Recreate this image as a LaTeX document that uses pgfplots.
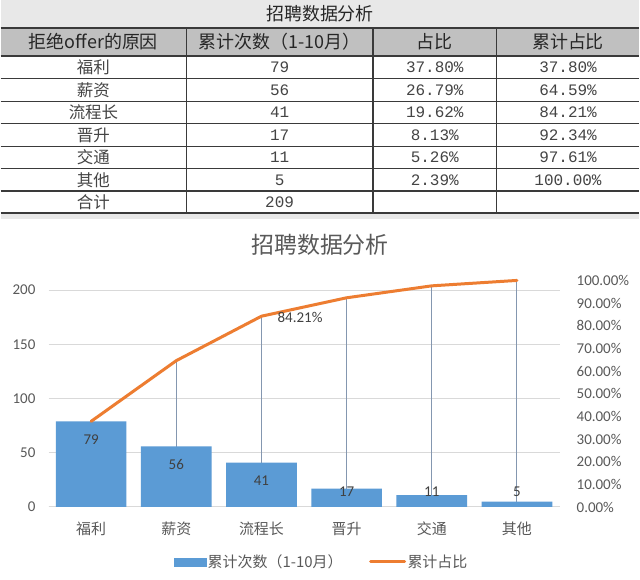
\documentclass[border=0pt]{standalone}
\usepackage{fontspec}
\setmainfont{Carlito}
\newfontfamily\cjk{Noto Sans CJK SC}
\newfontfamily\mono{Liberation Mono}
\usepackage{pgfplots}
\usepackage{pgfplotstable}
\pgfplotsset{compat=1.18}
\newcommand\fs[1]{\fontsize{#1}{#1}\selectfont}
\definecolor{barblue}{HTML}{5B9BD5}
\definecolor{lineor}{HTML}{ED7D31}
\definecolor{gridc}{HTML}{D9D9D9}
\definecolor{txt}{HTML}{595959}
\definecolor{dropc}{HTML}{8497B0}
\definecolor{tstrip}{HTML}{E8E8E8}
\definecolor{thead}{HTML}{C0C0C0}
\definecolor{tline}{HTML}{3A3A3A}
\definecolor{ttext}{HTML}{444444}
\pgfplotstableread{
x n cum
0 79 37.80
1 56 64.59
2 41 84.21
3 17 92.34
4 11 97.61
5 5 100.00
}\datatab
\begin{document}
\begin{tikzpicture}[x=1pt,y=1pt]
\fill[white] (0,0) rectangle (640,581);
\fill[tstrip] (0,553) rectangle (640,581);
\fill[thead] (0,525) rectangle (640,553);
\fill[tstrip] (0,362) rectangle (640,367.5);
\begin{scope}[tline, line width=1.3pt]
\foreach \yy in {553,525,502,479.5,457,434,412,389.5,367.5} {\draw (0,\yy) -- (640,\yy);}
\foreach \xx in {186,373,497} {\draw (\xx,553) -- (\xx,367.5);}
\end{scope}
\node[font=\cjk\fs{18}, text=black!85] at (320,567) {招聘数据分析};
\begin{scope}[every node/.style={font=\cjk\fs{18}, text=black!85, inner sep=0pt}]
\node at (93,539) {拒绝offer的原因};
\node at (279.5,539) {累计次数（1-10月）};
\node at (435,539) {占比};
\node at (568.5,539) {累计占比};
\end{scope}
\begin{scope}[every node/.style={text=ttext, inner sep=0pt}]
\foreach \yy/\a/\b/\c/\d in {513.5/福利/79/37.80\%/37.80\%, 491/薪资/56/26.79\%/64.59\%, 468.5/流程长/41/19.62\%/84.21\%, 445.5/晋升/17/8.13\%/92.34\%, 423/交通/11/5.26\%/97.61\%, 400.5/其他/5/2.39\%/100.00\%, 378.5/合计/209//} {
  \node[font=\cjk\fs{16.5}] at (93,\yy) {\a};
  \node[font=\mono\fs{16}] at (279.5,\yy) {\b};
  \node[font=\mono\fs{16}] at (435,\yy) {\c};
  \node[font=\mono\fs{16}] at (568.5,\yy) {\d};
}
\end{scope}
\node[font=\cjk\fs{23}, text=txt] at (320,336) {招聘数据分析};

\begin{axis}[
  at={(48pt,73pt)}, anchor=south west, scale only axis,
  width=512pt, height=227pt,
  xmin=-0.5, xmax=5.5, ymin=0, ymax=209,
  clip=false,
  separate axis lines,
  axis x line*=bottom, axis y line*=left,
  x axis line style={draw=gridc, line width=1pt, -},
  y axis line style={draw=none},
  tick style={draw=none}, major tick length=0pt,
  ymajorgrids, grid style={gridc, line width=1pt},
  /pgf/number format/assume math mode=true,
  ytick={0,50,100,150,200}, yticklabels={0,50,100,150,200},
  yticklabel style={font=\fs{15}, text=txt, anchor=east, inner sep=0pt, xshift=-13pt},
  xtick={0,1,2,3,4,5}, xticklabels={福利,薪资,流程长,晋升,交通,其他},
  xticklabel style={font=\cjk\fs{15}, text=txt, anchor=center, inner sep=0pt, yshift=-22pt},
]
\addplot[ycomb, draw=dropc, line width=1pt, mark=none] table[x=x, y expr=\thisrow{cum}*2.09] {\datatab};
\addplot[ybar, bar width=0.83, fill=barblue, draw=none] table[x=x, y=n] {\datatab};
\addplot[draw=none, mark=none, nodes near coords, point meta=explicit symbolic,
  every node near coord/.append style={anchor=center, font=\fs{15}, text=black!75, inner sep=0pt}]
  table[x=x, y expr={max(\thisrow{n}-16.6,13.8)}, meta=n] {\datatab};
\end{axis}

\begin{axis}[
  at={(48pt,73pt)}, anchor=south west, scale only axis,
  width=512pt, height=227pt,
  xmin=-0.5, xmax=5.5, ymin=0, ymax=100,
  clip=false,
  hide x axis,
  axis y line*=right,
  y axis line style={draw=none},
  tick style={draw=none}, major tick length=0pt,
  /pgf/number format/assume math mode=true,
  ytick={0,10,20,30,40,50,60,70,80,90,100},
  yticklabels={0.00\%,10.00\%,20.00\%,30.00\%,40.00\%,50.00\%,60.00\%,70.00\%,80.00\%,90.00\%,100.00\%},
  yticklabel style={font=\fs{15}, text=txt, anchor=west, inner sep=0pt, xshift=17pt},
  legend style={at={(axis description cs:0.534,-0.242)}, anchor=center, draw=none, fill=none,
    font=\cjk\fs{15}, text=txt, inner sep=0pt,
    nodes={inner sep=1.5pt},
    /tikz/every even column/.append style={column sep=25pt}},
  legend columns=2, legend cell align=left,
]
\addlegendimage{legend image code/.code={\fill[barblue] (0pt,-4pt) rectangle (32pt,4pt);}}
\addlegendentry{累计次数（1-10月）}
\addplot[lineor, line width=3pt, mark=none, line join=round, line cap=round,
  legend image code/.code={\draw[lineor, line width=3pt] (0pt,0pt) -- (34pt,0pt);}]
  table[x=x, y=cum] {\datatab};
\addlegendentry{累计占比}
\addplot[draw=none, mark=none, forget plot, nodes near coords={84.21\%},
  every node near coord/.append style={anchor=west, font=\fs{15}, text=black!75, inner sep=0pt, xshift=16pt, yshift=-1pt}]
  coordinates {(2,84.21)};
\end{axis}
\end{tikzpicture}
\end{document}
